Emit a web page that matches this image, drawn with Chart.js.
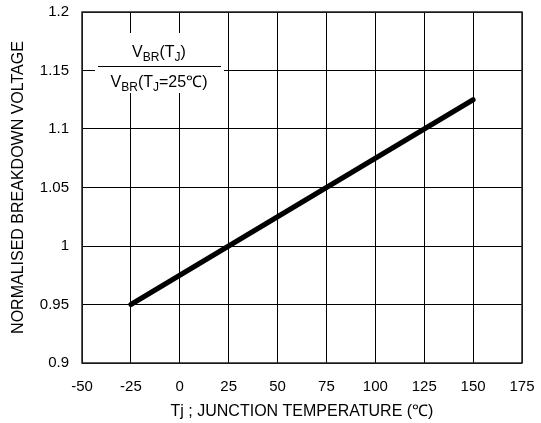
<!DOCTYPE html>
<html>
<head>
<meta charset="utf-8">
<script src="https://cdn.jsdelivr.net/npm/chart.js@4"></script>
<style>
  html, body { margin: 0; padding: 0; background: #fff; }
  #wrap { width: 541px; height: 423px; }
</style>
</head>
<body>
<div id="wrap"><canvas id="myChart" width="541" height="423"></canvas></div>
<script>
// junction temperature (C) and normalised breakdown voltage
const tempC = [-25, 150];
const vbrRatio = [0.95, 1.125];

const xTicks = [-50, -25, 0, 25, 50, 75, 100, 125, 150, 175];
const xTickLabels = ['-50', '-25', '0', '25', '50', '75', '100', '125', '150', '175'];
const yTicks = [0.9, 0.95, 1, 1.05, 1.1, 1.15, 1.2];
const yTickLabels = ['0.9', '0.95', '1', '1.05', '1.1', '1.15', '1.2'];

const xTitle = 'Tj ; JUNCTION TEMPERATURE (\u2103)';
const yTitle = 'NORMALISED BREAKDOWN VOLTAGE';

const FONT = '"Liberation Sans", Arial, Helvetica, sans-serif';

// draws a run of [text, isSub] parts centred on cx, baseline y
function drawParts(ctx, parts, cx, y) {
    const big = '16px ' + FONT;
    const small = '12px ' + FONT;
    let total = 0;
    parts.forEach(p => {
        ctx.font = p[1] ? small : big;
        total += ctx.measureText(p[0]).width;
    });
    let x = cx - total / 2;
    parts.forEach(p => {
        ctx.font = p[1] ? small : big;
        ctx.fillText(p[0], x, p[1] ? y + 4 : y);
        x += ctx.measureText(p[0]).width;
    });
}

const framePlugin = {
    id: 'frame',
    beforeDatasetsDraw(chart) {
        const {ctx, chartArea: a} = chart;
        ctx.save();
        // white box behind the ratio label
        ctx.fillStyle = '#fff';
        ctx.fillRect(a.left + 13, a.top + 21, 129, 60);
        // fraction bar
        ctx.strokeStyle = '#000';
        ctx.lineWidth = 1;
        ctx.beginPath();
        ctx.moveTo(a.left + 16, a.top + 54.5);
        ctx.lineTo(a.left + 139, a.top + 54.5);
        ctx.stroke();
        ctx.fillStyle = '#000';
        ctx.textBaseline = 'alphabetic';
        ctx.textAlign = 'left';
        const cx = a.left + 77;
        drawParts(ctx, [['V', false], ['BR', true], ['(T', false], ['J', true], [')', false]], cx, a.top + 45);
        drawParts(ctx, [['V', false], ['BR', true], ['(T', false], ['J', true], ['=25\u2103)', false]], cx, a.top + 75);
        ctx.restore();
    },
    afterDatasetsDraw(chart) {
        const {ctx, chartArea: a} = chart;
        ctx.save();
        ctx.strokeStyle = '#222';
        ctx.lineWidth = 1.5;
        ctx.strokeRect(a.left, a.top, a.right - a.left, a.bottom - a.top);
        ctx.restore();
    }
};

new Chart(document.getElementById('myChart').getContext('2d'), {
    type: 'scatter',
    data: {
        datasets: [{
            data: tempC.map((t, i) => ({x: t, y: vbrRatio[i]})),
            showLine: true,
            borderColor: '#000',
            borderWidth: 5,
            borderCapStyle: 'round',
            pointRadius: 0,
            fill: false
        }]
    },
    options: {
        responsive: false,
        animation: false,
        layout: { padding: { top: 12, right: 19, left: 0, bottom: 0 } },
        plugins: {
            legend: { display: false },
            tooltip: { enabled: false }
        },
        scales: {
            x: {
                type: 'linear',
                min: -50,
                max: 175,
                afterBuildTicks: s => { s.ticks = xTicks.map(v => ({value: v})); },
                afterFit: s => { s.height = 60; s.paddingLeft = 0; s.paddingRight = 0; },
                grid: { color: '#000', lineWidth: 1, drawTicks: false },
                border: { display: false },
                ticks: {
                    color: '#000',
                    padding: 15,
                    maxRotation: 0,
                    font: { family: FONT, size: 15 },
                    callback: (v, i) => xTickLabels[i]
                },
                title: {
                    display: true,
                    text: xTitle,
                    color: '#000',
                    font: { family: FONT, size: 16 },
                    padding: { top: 0, bottom: 2 }
                }
            },
            y: {
                min: 0.9,
                max: 1.2,
                afterBuildTicks: s => { s.ticks = yTicks.map(v => ({value: v})); },
                afterFit: s => { s.width = 82; s.paddingTop = 0; s.paddingBottom = 0; },
                grid: { color: '#000', lineWidth: 1, drawTicks: false },
                border: { display: false },
                ticks: {
                    color: '#000',
                    padding: 13,
                    font: { family: FONT, size: 15 },
                    callback: (v, i) => yTickLabels[i]
                },
                title: {
                    display: true,
                    text: yTitle,
                    color: '#000',
                    font: { family: FONT, size: 16 },
                    padding: { top: 9, bottom: 0 }
                }
            }
        }
    },
    plugins: [framePlugin]
});
</script>
</body>
</html>
